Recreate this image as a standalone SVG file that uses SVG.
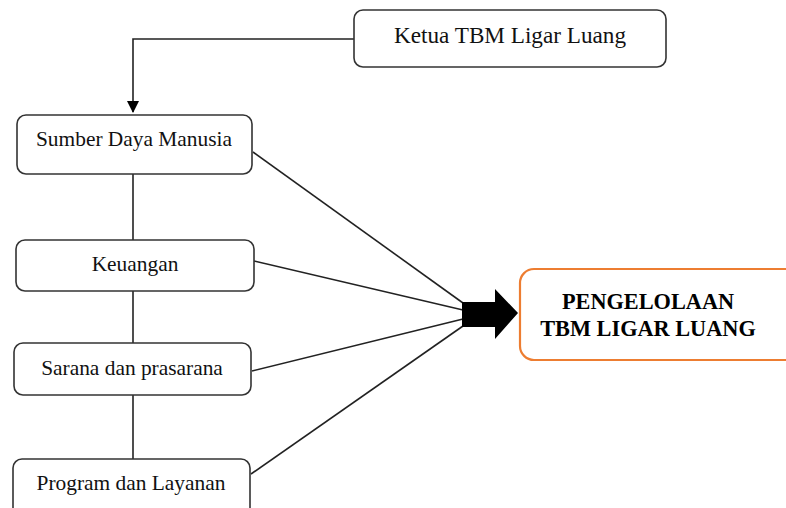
<svg xmlns="http://www.w3.org/2000/svg" width="786" height="508" viewBox="0 0 786 508">
  <defs>
    <marker id="arr" viewBox="0 0 12 12" refX="11" refY="6" markerWidth="12" markerHeight="12" markerUnits="userSpaceOnUse" orient="auto">
      <path d="M0,0 L12,6 L0,12 Z" fill="#000"/>
    </marker>
  </defs>
  <style>
    .box { fill: #fff; stroke: #333; stroke-width: 1.6; }
    .lbl { font-family: "Liberation Serif", "Times New Roman", serif; font-size: 21.4px; fill: #111; text-anchor: middle; }
    .main { fill: #fff; stroke: #ED7D31; stroke-width: 2.2; }
    .mlbl { font-family: "Liberation Serif", "Times New Roman", serif; font-size: 22.3px; font-weight: bold; fill: #000; text-anchor: middle; }
    .ln { stroke: #222; stroke-width: 1.6; fill: none; }
  </style>
  <rect width="786" height="508" fill="#fff"/>
  <g id="connectors">
    <polyline class="ln" points="354,39 133,39 133,112" stroke-width="2.4" marker-end="url(#arr)"/>
    <line class="ln" x1="133" y1="174" x2="133" y2="240"/>
    <line class="ln" x1="133" y1="291" x2="133" y2="343"/>
    <line class="ln" x1="133" y1="395" x2="133" y2="459"/>
    <line class="ln" x1="253" y1="152" x2="463" y2="303"/>
    <line class="ln" x1="254" y1="261" x2="463" y2="310"/>
    <line class="ln" x1="252" y1="371" x2="463" y2="319"/>
    <line class="ln" x1="251" y1="474" x2="463" y2="326"/>
    <polygon points="462,302 495,302 495,289 518,313 495,339 495,327 462,327" fill="#000"/>
  </g>
  <g id="ketua">
    <rect class="box" x="354" y="10" width="312" height="57" rx="9"/>
    <text class="lbl" x="510" y="43" style="font-size:23.2px">Ketua TBM Ligar Luang</text>
  </g>
  <g id="sdm">
    <rect class="box" x="17" y="115" width="235" height="59" rx="9"/>
    <text class="lbl" x="134" y="146">Sumber Daya Manusia</text>
  </g>
  <g id="keuangan">
    <rect class="box" x="16" y="240" width="238" height="51" rx="9"/>
    <text class="lbl" x="135" y="271">Keuangan</text>
  </g>
  <g id="sarana">
    <rect class="box" x="14" y="343" width="237" height="52" rx="9"/>
    <text class="lbl" x="132" y="375">Sarana dan prasarana</text>
  </g>
  <g id="program">
    <rect class="box" x="13" y="459" width="237" height="60" rx="9"/>
    <text class="lbl" x="131" y="490">Program dan Layanan</text>
  </g>
  <g id="pengelolaan">
    <rect class="main" x="520" y="269" width="290" height="91" rx="14"/>
    <text class="mlbl" x="648" y="309">PENGELOLAAN</text>
    <text class="mlbl" x="648" y="336">TBM LIGAR LUANG</text>
  </g>
</svg>
